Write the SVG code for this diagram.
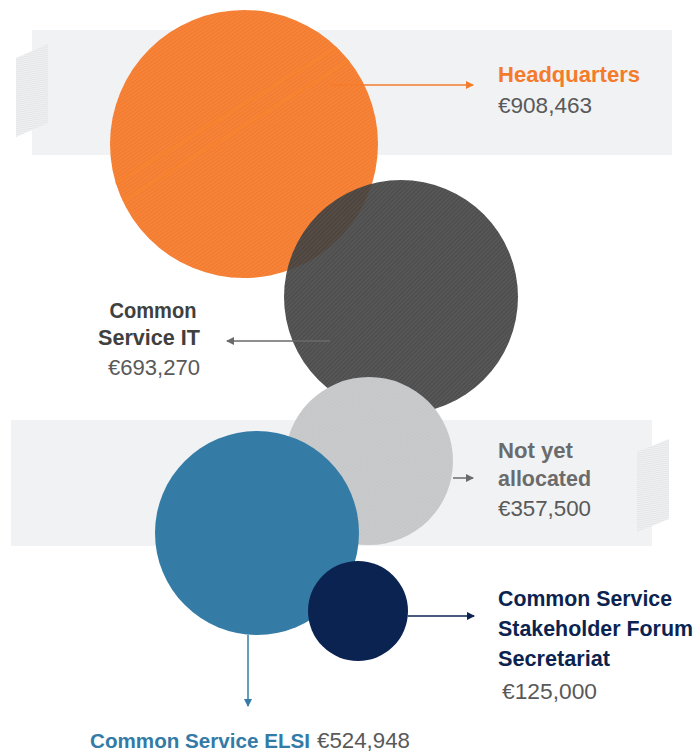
<svg xmlns="http://www.w3.org/2000/svg" width="698" height="755" viewBox="0 0 698 755">
<defs>
<pattern id="hOrange" width="3" height="3" patternUnits="userSpaceOnUse" patternTransform="rotate(-35)">
<rect width="3" height="3" fill="#f47a2b"/><line x1="0" y1="1" x2="3" y2="1" stroke="#f68c48" stroke-width="1"/>
</pattern>
<pattern id="hDark" width="3" height="3" patternUnits="userSpaceOnUse" patternTransform="rotate(-45)">
<rect width="3" height="3" fill="#3b3b3b"/><line x1="0" y1="1" x2="3" y2="1" stroke="#555555" stroke-width="1"/>
</pattern>
<pattern id="hLight" width="3" height="3" patternUnits="userSpaceOnUse" patternTransform="rotate(-35)">
<rect width="3" height="3" fill="#c5c6c7"/><line x1="0" y1="1" x2="3" y2="1" stroke="#cecfd0" stroke-width="1"/>
</pattern>
<pattern id="hStrip" width="3" height="2" patternUnits="userSpaceOnUse" patternTransform="rotate(-8)">
<rect width="3" height="2" fill="#e4e5e7"/><line x1="0" y1="0.5" x2="3" y2="0.5" stroke="#f4f4f5" stroke-width="0.8"/>
</pattern>
<clipPath id="cOrange"><circle cx="244" cy="144" r="134"/></clipPath>
<marker id="aOrange" markerWidth="8" markerHeight="8" refX="7" refY="4" orient="auto" markerUnits="userSpaceOnUse"><path d="M0,0 L8,4 L0,8 Z" fill="#f47b2a"/></marker>
<marker id="aGray" markerWidth="8" markerHeight="8" refX="7" refY="4" orient="auto" markerUnits="userSpaceOnUse"><path d="M0,0 L8,4 L0,8 Z" fill="#6a6a6a"/></marker>
<marker id="aNavy" markerWidth="8" markerHeight="8" refX="7" refY="4" orient="auto" markerUnits="userSpaceOnUse"><path d="M0,0 L8,4 L0,8 Z" fill="#0c2350"/></marker>
<marker id="aBlue" markerWidth="8" markerHeight="8" refX="7" refY="4" orient="auto" markerUnits="userSpaceOnUse"><path d="M0,0 L8,4 L0,8 Z" fill="#337ba6"/></marker>
</defs>
<style>
text{font-family:"Liberation Sans",Arial,sans-serif;font-size:22.5px}
.b{font-weight:bold}
.val{fill:#595959}
.conn{fill:none;stroke-width:1.5}
</style>
<rect x="0" y="0" width="698" height="755" fill="#ffffff"/>
<g id="bands">
<rect x="32" y="30" width="640" height="125" fill="#f1f2f4"/>
<rect x="11" y="420" width="641" height="126" fill="#f1f2f4"/>
<polygon points="16,58 48,44 48,123 16,137" fill="url(#hStrip)"/>
<polygon points="637,452 669,439 669,519 637,532" fill="url(#hStrip)"/>
</g>
<g id="headquarters">
<circle cx="244" cy="144" r="134" fill="url(#hOrange)"/>
<g clip-path="url(#cOrange)" stroke="#f8832f" stroke-width="2.5">
<line x1="100" y1="193" x2="340" y2="45"/>
<line x1="100" y1="215" x2="355" y2="57"/>
</g>
<text class="b" x="498" y="82" fill="#f47b2a" textLength="142" lengthAdjust="spacingAndGlyphs">Headquarters</text>
<text class="val" x="498" y="113" textLength="94" lengthAdjust="spacingAndGlyphs">€908,463</text>
</g>
<g id="common-service-it">
<circle cx="401" cy="297" r="117" fill="url(#hDark)" opacity="0.92"/>
<text class="b" x="153" y="318" fill="#404040" text-anchor="middle" textLength="87" lengthAdjust="spacingAndGlyphs">Common</text>
<text class="b" x="98" y="345" fill="#404040" textLength="102" lengthAdjust="spacingAndGlyphs">Service IT</text>
<text class="val" x="108" y="375" textLength="92" lengthAdjust="spacingAndGlyphs">€693,270</text>
</g>
<g id="not-yet-allocated">
<circle cx="369" cy="461" r="84" fill="url(#hLight)"/>
<text class="b" x="498" y="458" fill="#6b6b6b" textLength="75" lengthAdjust="spacingAndGlyphs">Not yet</text>
<text class="b" x="498" y="486" fill="#6b6b6b" textLength="93" lengthAdjust="spacingAndGlyphs">allocated</text>
<text class="val" x="498" y="516" textLength="93" lengthAdjust="spacingAndGlyphs">€357,500</text>
</g>
<g id="common-service-elsi">
<circle cx="257" cy="533" r="102" fill="#347ca6"/>
<text class="b" x="90" y="748" fill="#337ba6" style="font-size:20.6px" textLength="220" lengthAdjust="spacingAndGlyphs">Common Service ELSI</text>
<text class="val" x="317" y="748" textLength="93" lengthAdjust="spacingAndGlyphs">€524,948</text>
</g>
<g id="stakeholder-forum">
<circle cx="358" cy="611" r="50" fill="#0b2351"/>
<text class="b" x="498" y="606" fill="#0c2350" textLength="174" lengthAdjust="spacingAndGlyphs">Common Service</text>
<text class="b" x="498" y="636" fill="#0c2350" style="font-size:21.4px" textLength="195" lengthAdjust="spacingAndGlyphs">Stakeholder Forum</text>
<text class="b" x="498" y="666" fill="#0c2350" textLength="112" lengthAdjust="spacingAndGlyphs">Secretariat</text>
<text class="val" x="502" y="699" textLength="95" lengthAdjust="spacingAndGlyphs">€125,000</text>
</g>
<g id="connectors">
<line class="conn" x1="330" y1="85" x2="473" y2="85" stroke="#f47b2a" marker-end="url(#aOrange)"/>
<line class="conn" x1="330" y1="341" x2="227" y2="341" stroke="#6a6a6a" marker-end="url(#aGray)"/>
<line class="conn" x1="453" y1="478" x2="473" y2="478" stroke="#6a6a6a" marker-end="url(#aGray)"/>
<line class="conn" x1="408" y1="616" x2="474" y2="616" stroke="#0c2350" marker-end="url(#aNavy)"/>
<line class="conn" x1="248" y1="635" x2="248" y2="706" stroke="#337ba6" marker-end="url(#aBlue)"/>
</g>
</svg>
